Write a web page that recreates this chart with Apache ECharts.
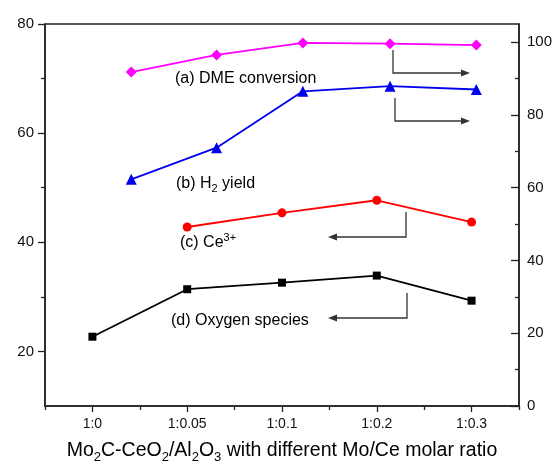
<!DOCTYPE html>
<html>
<head>
<meta charset="utf-8">
<script src="https://cdn.jsdelivr.net/npm/echarts@6/dist/echarts.min.js"></script>
<style>
  html, body { margin: 0; padding: 0; background: #fff; }
  #chart { width: 555px; height: 464px; }
</style>
</head>
<body>
<div id="chart"></div>
<script>
// Mo/Ce molar ratio categories
const categories = ['1:0', '1:0.05', '1:0.1', '1:0.2', '1:0.3'];
// Sample positions of conversion / yield points along the ratio axis (category units)
const convPositions = [0.41, 1.31, 2.22, 3.14, 4.05];
// Right axis (%)
const dmeConversion = [91.8, 96.5, 99.8, 99.6, 99.2];
const h2Yield = [62.3, 71.0, 86.5, 87.9, 87.0];
// Left axis (%)
const ce3 = [null, 42.8, 45.4, 47.7, 43.7];
const oxygenSpecies = [22.7, 31.4, 32.6, 33.9, 29.3];
// Tick values
const leftTicks = [20, 40, 60, 80];
const leftMinor = [30, 50, 70];
const rightTicks = [0, 20, 40, 60, 80, 100];
const rightMinor = [10, 30, 50, 70, 90];

const FONT = '"Liberation Sans", Arial, sans-serif';
const AXIS = '#222';
const ARROW = '#333';

const chart = echarts.init(document.getElementById('chart'), null, { renderer: 'canvas' });

function arrow(pts) {
  const n = pts.length;
  const [x1, y1] = pts[n - 2];
  const [x2, y2] = pts[n - 1];
  const len = Math.hypot(x2 - x1, y2 - y1);
  const ux = (x2 - x1) / len, uy = (y2 - y1) / len;
  const hl = 9, hw = 3.5;
  const bx = x2 - ux * hl, by = y2 - uy * hl;
  const line = pts.slice(0, n - 1).concat([[bx, by]]);
  return [
    { type: 'polyline', shape: { points: line }, style: { stroke: ARROW, lineWidth: 1.3, fill: null }, silent: true },
    { type: 'polygon', shape: { points: [[x2, y2], [bx - uy * hw, by + ux * hw], [bx + uy * hw, by - ux * hw]] },
      style: { fill: ARROW }, silent: true }
  ];
}

const rich = {
  m: { fontSize: 16, fontFamily: FONT, color: '#111' },
  s: { fontSize: 11, fontFamily: FONT, color: '#111', padding: [10, 0, 0, 0] },
  u: { fontSize: 11, fontFamily: FONT, color: '#111', padding: [0, 0, 10, 0] },
  T: { fontSize: 19.5, fontFamily: FONT, color: '#111' },
  S: { fontSize: 13, fontFamily: FONT, color: '#111', padding: [12, 0, 0, 0] }
};

function label(x, y, text) {
  return { type: 'text', x: x, y: y, silent: true,
    style: { text: text, rich: rich, verticalAlign: 'middle', align: 'left' } };
}

const graphics = [
  label(175, 79, '{m|(a) DME conversion}'),
  label(176, 184, '{m|(b) H}{s|2}{m| yield}'),
  label(180, 243, '{m|(c) Ce}{u|3+}'),
  label(171, 321, '{m|(d) Oxygen species}'),
  { type: 'text', x: 282, y: 451, silent: true,
    style: { text: '{T|Mo}{S|2}{T|C-CeO}{S|2}{T|/Al}{S|2}{T|O}{S|3}{T| with different Mo/Ce molar ratio}',
      rich: rich, align: 'center', verticalAlign: 'middle' } }
]
  .concat(arrow([[393, 50], [393, 73], [470, 73]]))
  .concat(arrow([[395, 98], [395, 121], [470, 121]]))
  .concat(arrow([[406, 212], [406, 237], [328, 237]]))
  .concat(arrow([[407, 293], [407, 318], [328, 318]]));

const lineAxis = { show: true, onZero: false, lineStyle: { color: AXIS, width: 1.5 } };
const noLine = { show: false, onZero: false };

chart.setOption({
  animation: false,
  backgroundColor: '#fff',
  grid: { left: 45, right: 36, top: 24, bottom: 58, show: true, borderColor: AXIS, borderWidth: 1.5, backgroundColor: 'transparent' },
  xAxis: [
    { type: 'category', data: categories, boundaryGap: true, position: 'bottom',
      axisLine: lineAxis,
      axisTick: { show: true, alignWithLabel: true, length: 6, lineStyle: { color: AXIS, width: 1.3 } },
      axisLabel: { fontSize: 14, fontFamily: FONT, color: '#111', margin: 11 },
      splitLine: { show: false } },
    { type: 'category', data: categories, boundaryGap: true, position: 'bottom',
      axisLine: noLine,
      axisTick: { show: true, length: 4, lineStyle: { color: AXIS, width: 1.3 } },
      axisLabel: { show: false }, splitLine: { show: false } },
    { type: 'value', min: -0.5, max: 4.5, show: false, axisLine: noLine }
  ],
  yAxis: [
    { type: 'value', position: 'left', min: 10, max: 80,
      axisLine: lineAxis,
      axisTick: { show: true, customValues: leftTicks, length: 7, lineStyle: { color: AXIS, width: 1.3 } },
      axisLabel: { customValues: leftTicks, fontSize: 15, fontFamily: FONT, color: '#111', margin: 11 },
      splitLine: { show: false } },
    { type: 'value', position: 'right', min: 0, max: 105,
      axisLine: lineAxis,
      axisTick: { show: true, inside: true, customValues: rightTicks, length: 8, lineStyle: { color: AXIS, width: 1.3 } },
      axisLabel: { customValues: rightTicks, fontSize: 15, fontFamily: FONT, color: '#111', margin: 8 },
      splitLine: { show: false } },
    { type: 'value', position: 'left', min: 10, max: 80,
      axisLine: noLine,
      axisTick: { show: true, customValues: leftMinor, length: 4, lineStyle: { color: AXIS, width: 1.3 } },
      axisLabel: { show: false }, splitLine: { show: false } },
    { type: 'value', position: 'right', min: 0, max: 105,
      axisLine: noLine,
      axisTick: { show: true, inside: true, customValues: rightMinor, length: 4, lineStyle: { color: AXIS, width: 1.3 } },
      axisLabel: { show: false }, splitLine: { show: false } }
  ],
  series: [
    { name: 'DME conversion', type: 'line', xAxisIndex: 2, yAxisIndex: 1,
      data: convPositions.map((x, i) => [x, dmeConversion[i]]),
      symbol: 'diamond', symbolSize: 11, itemStyle: { color: '#ff00ff' },
      lineStyle: { color: '#ff00ff', width: 1.8 } },
    { name: 'H2 yield', type: 'line', xAxisIndex: 2, yAxisIndex: 1,
      data: convPositions.map((x, i) => [x, h2Yield[i]]),
      symbol: 'triangle', symbolSize: 11, itemStyle: { color: '#0000ee' },
      lineStyle: { color: '#0000ee', width: 1.8 } },
    { name: 'Ce3+', type: 'line', xAxisIndex: 0, yAxisIndex: 0, data: ce3,
      symbol: 'circle', symbolSize: 9, itemStyle: { color: '#ff0000' },
      lineStyle: { color: '#ff0000', width: 1.8 } },
    { name: 'Oxygen species', type: 'line', xAxisIndex: 0, yAxisIndex: 0, data: oxygenSpecies,
      symbol: 'rect', symbolSize: 8, itemStyle: { color: '#000' },
      lineStyle: { color: '#000', width: 1.8 } }
  ],
  graphic: graphics
});
</script>
</body>
</html>
